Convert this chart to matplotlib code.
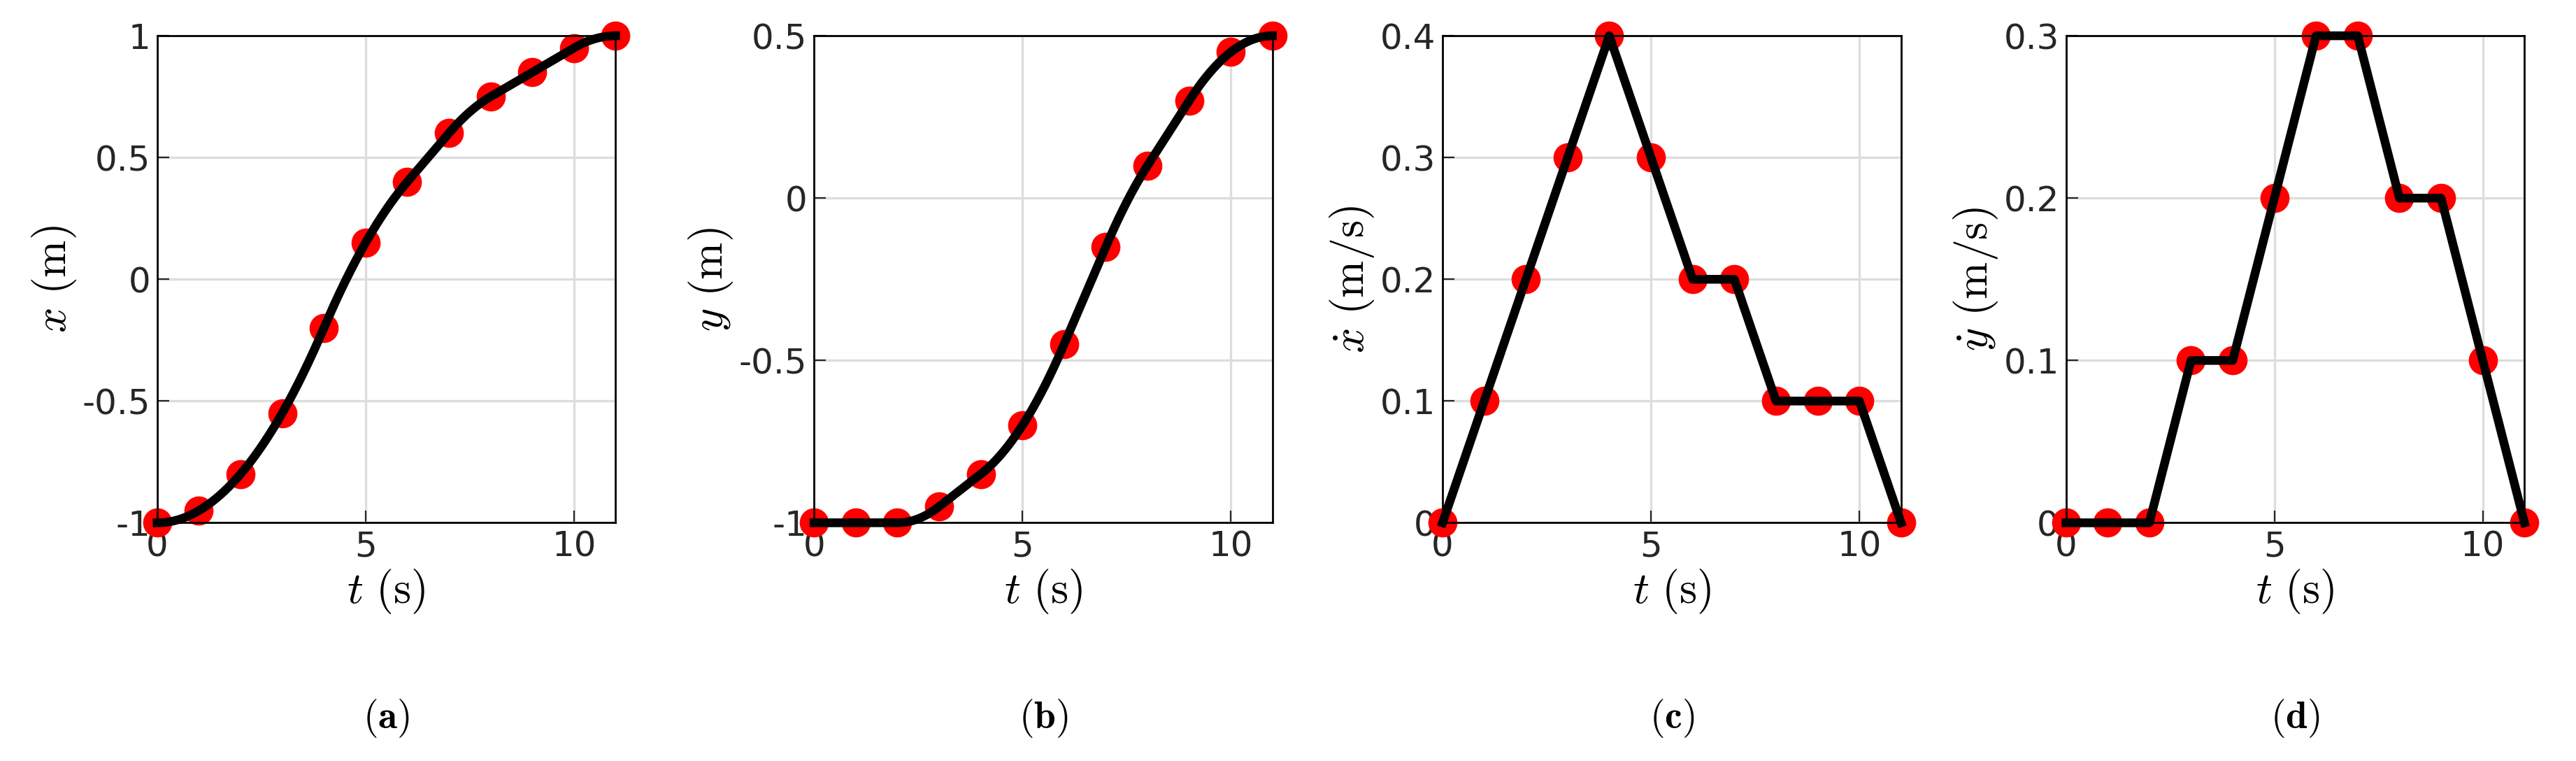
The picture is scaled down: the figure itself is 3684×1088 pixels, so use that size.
import matplotlib
matplotlib.use("Agg")
import matplotlib.pyplot as plt
import numpy as np

plt.rcParams["mathtext.fontset"] = "cm"
plt.rcParams["font.family"] = ["DejaVu Sans"]

t = np.arange(12)
x_pts = [-1, -0.95, -0.8, -0.55, -0.2, 0.15, 0.4, 0.6, 0.75, 0.85, 0.95, 1.0]
y_pts = [-1, -1, -1, -0.95, -0.85, -0.7, -0.45, -0.15, 0.1, 0.3, 0.45, 0.5]
xd_pts = [0, 0.1, 0.2, 0.3, 0.4, 0.3, 0.2, 0.2, 0.1, 0.1, 0.1, 0]
yd_pts = [0, 0, 0, 0.1, 0.1, 0.2, 0.3, 0.3, 0.2, 0.2, 0.1, 0]


def integrate_curve(p0, vel):
    # position is integral of piecewise-linear velocity -> quadratic segments
    tt, pp = [], []
    p = p0
    s = np.linspace(0, 1, 30)
    for i in range(len(vel) - 1):
        v0, v1 = vel[i], vel[i + 1]
        tt.append(i + s)
        pp.append(p + v0 * s + (v1 - v0) * s ** 2 / 2)
        p = p + (v0 + v1) / 2
    return np.concatenate(tt), np.concatenate(pp)


panels = [
    (integrate_curve(x_pts[0], xd_pts), x_pts, r"$x\ \mathrm{(m)}$", [-1, -0.5, 0, 0.5, 1], ["-1", "-0.5", "0", "0.5", "1"], (-1, 1), "a"),
    (integrate_curve(y_pts[0], yd_pts), y_pts, r"$y\ \mathrm{(m)}$", [-1, -0.5, 0, 0.5], ["-1", "-0.5", "0", "0.5"], (-1, 0.5), "b"),
    ((t, xd_pts), xd_pts, r"$\dot{x}\ \mathrm{(m/s)}$", [0, 0.1, 0.2, 0.3, 0.4], ["0", "0.1", "0.2", "0.3", "0.4"], (0, 0.4), "c"),
    ((t, yd_pts), yd_pts, r"$\dot{y}\ \mathrm{(m/s)}$", [0, 0.1, 0.2, 0.3], ["0", "0.1", "0.2", "0.3"], (0, 0.3), "d"),
]

lefts = [0.061, 0.316, 0.560, 0.802]
width = 0.178
bottom, top = 0.313, 0.953

fig = plt.figure(figsize=(18.42, 5.44), dpi=200)
for left, (curve, pts, ylabel, yt, ytl, ylim, tag) in zip(lefts, panels):
    ax = fig.add_axes([left, bottom, width, top - bottom])
    ax.grid(True, color="#dddddd", lw=1.2)
    ax.set_axisbelow(True)
    ax.plot(t, pts, "o", color="red", ms=14, zorder=2, clip_on=False)
    ax.plot(curve[0], curve[1], color="black", lw=4.5, zorder=3, clip_on=False)
    ax.set_xlim(0, 11)
    ax.set_ylim(*ylim)
    ax.set_xticks([0, 5, 10])
    ax.set_yticks(yt)
    ax.set_yticklabels(ytl)
    ax.tick_params(direction="in", labelsize=18, length=6, colors="#262626")
    ax.set_xlabel(r"$t\ \mathrm{(s)}$", fontsize=23, labelpad=2)
    ax.set_ylabel(ylabel, fontsize=23, labelpad=2)
    for sp in ax.spines.values():
        sp.set_linewidth(1.0)
    fig.text(left + width / 2, 0.056, r"$(\mathbf{%s})$" % tag,
             ha="center", va="center", fontsize=20)

fig.savefig("out.png", dpi=200)
